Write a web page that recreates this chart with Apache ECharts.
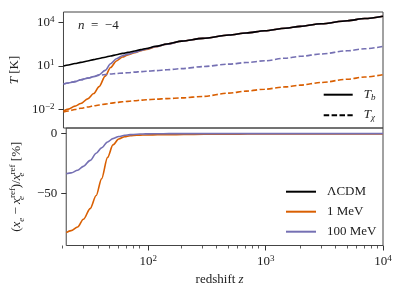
<!DOCTYPE html>
<html><head><meta charset="utf-8">
<script src="https://cdn.jsdelivr.net/npm/echarts@6/dist/echarts.min.js"></script>
<style>html,body{margin:0;padding:0;background:#fff}#c{width:399px;height:292px}</style>
</head><body><div id="c"></div>
<script>
const redshift = [20,22,25,28,32,36,40,45,50,56,63,70,80,90,100,120,150,200,300,500,700,1000,1500,2000,3000,5000,7000,10000];
const Tb_LCDM = [10.0,11.7,14.8,17.8,22.4,27.5,33.1,40.7,49.0,60.3,74.1,87.1,110,135,162,229,331,525,813,1380,1905,2750,4070,5500,8300,13500,19100,27500];
const Tb_1MeV = [0.0078,0.0105,0.017,0.0257,0.0537,0.126,0.38,2.0,7.9,22.4,41.7,58.9,83.2,112,141,209,324,525,813,1380,1905,2750,4070,5500,8300,13500,19100,27500];
const Tchi_1MeV = [0.0066,0.0079,0.010,0.012,0.0148,0.0178,0.0204,0.0234,0.0269,0.0302,0.0339,0.0363,0.0398,0.0437,0.0468,0.0513,0.0562,0.0631,0.0794,0.135,0.186,0.251,0.363,0.479,0.724,1.23,1.74,2.51];
const Tb_100MeV = [0.575,0.676,0.832,1.12,1.45,1.86,2.51,5.0,14.5,31.6,51.3,66.1,89.1,117,148,219,324,525,813,1380,1905,2750,4070,5500,8300,13500,19100,27500];
const Tchi_100MeV = [0.575,0.676,0.832,1.12,1.45,1.86,2.29,2.57,2.82,3.02,3.24,3.47,3.80,4.07,4.37,4.79,5.50,6.61,9.12,13.5,17.4,22.9,34.7,46.8,67.6,112,155,224];
const dxe_1MeV = [-83.2,-81.5,-78.5,-72,-63,-52,-38,-20,-9.5,-4.5,-2.6,-1.8,-1.4,-1.2,-1.1,-1.0,-0.9,-0.8,-0.6,-0.5,-0.4,-0.35,-0.3,-0.3,-0.25,-0.2,-0.2,-0.2];
const dxe_100MeV = [-33.8,-33,-30.8,-27.5,-22.5,-16.5,-12,-7,-4.2,-2.5,-1.4,-0.9,-0.5,-0.3,-0.2,-0.1,-0.05,0,0,0,0,0,0,0,0,0,0,0];

const xMajorTicks = [100,1000,10000];
const xMinorTicks = [20,30,40,50,60,70,80,90,200,300,400,500,600,700,800,900,2000,3000,4000,5000,6000,7000,8000,9000];
const yTopTicks = [0.01,10,10000];
const yBotTicks = [-50,0];
const bottomLegend = ['ΛCDM','1 MeV','100 MeV'];
const topLegend = ['Tb','Tx'];

const FONT = 'Liberation Serif';
const ORANGE = '#d95f02', PURPLE = '#7570b3', BLACK = '#000000';
const DASH = [5.5, 2.4];

function pairs(ys){ return redshift.map((z,i)=>[z, ys[i]]); }
function sci(v){
  const e = Math.round(Math.log10(v));
  return '{m|10}{s|' + (e < 0 ? '\u2212' + (-e) : e) + '}';
}
const supRich = {
  m: {fontFamily: FONT, fontSize: 13, lineHeight: 15, color: '#222'},
  s: {fontFamily: FONT, fontSize: 9, lineHeight: 9, verticalAlign: 'top', color: '#222'}
};

function line(name, ys, color, dashed, xi, yi){
  return {
    type: 'line', name: name, data: pairs(ys), xAxisIndex: xi, yAxisIndex: yi,
    showSymbol: false, symbol: 'none', smooth: 0.3, smoothMonotone: 'x',
    lineStyle: {color: color, width: 1.6, type: dashed ? DASH : 'solid'},
    itemStyle: {color: color}, animation: false, silent: true
  };
}
function legendOnly(name, color, dashed, xi, yi){
  return {type: 'line', name: name, data: [], xAxisIndex: xi, yAxisIndex: yi, symbol: 'none',
    lineStyle: {color: color, width: 1.6, type: dashed ? DASH : 'solid'}, itemStyle: {color: color}};
}

const chart = echarts.init(document.getElementById('c'), null, {renderer: 'canvas'});
const axisLineStyle = {color: '#333', width: 1};
const noLine = {show: false, onZero: false};
const bottomRect = {left: 62, top: 128, width: 321, height: 117.5};

chart.setOption({
  animation: false,
  backgroundColor: '#fff',
  textStyle: {fontFamily: FONT},
  title: {
    text: '{i|n}\u2002=\u2002\u22124',
    left: 78, top: 19, padding: 0,
    textStyle: {fontFamily: FONT, fontSize: 13, fontWeight: 'normal', color: '#222',
      rich: {i: {fontFamily: FONT, fontStyle: 'italic', fontSize: 13, color: '#222'}}}
  },
  grid: [
    {left: 62, top: 12, width: 321, height: 116, show: true, borderColor: '#444', borderWidth: 1, backgroundColor: 'transparent'},
    Object.assign({show: true, borderColor: '#444', borderWidth: 1, backgroundColor: 'transparent'}, bottomRect),
    Object.assign({show: false}, bottomRect)
  ],
  xAxis: [
    {type: 'log', gridIndex: 0, min: 20, max: 10000, axisLine: noLine, axisTick: {show: false},
     axisLabel: {show: false}, splitLine: {show: false}},
    {type: 'log', gridIndex: 1, position: 'bottom', min: 20, max: 10000, axisLine: noLine,
     axisTick: {show: true, length: 5, lineStyle: axisLineStyle, customValues: xMajorTicks},
     axisLabel: {show: true, margin: 9, customValues: xMajorTicks, formatter: sci, rich: supRich},
     splitLine: {show: false},
     name: 'redshift {i|z}', nameLocation: 'middle', nameGap: 28,
     nameTextStyle: {fontFamily: FONT, fontSize: 13, color: '#222', padding: [0, 10, 0, 0],
       rich: {i: {fontFamily: FONT, fontStyle: 'italic', fontSize: 13, color: '#222'}}}},
    {type: 'log', gridIndex: 2, position: 'bottom', min: 20, max: 10000, axisLine: noLine,
     axisTick: {show: true, length: 3, lineStyle: {color: '#333', width: 0.8}, customValues: xMinorTicks},
     axisLabel: {show: false}, splitLine: {show: false}}
  ],
  yAxis: [
    {type: 'log', gridIndex: 0, min: 0.000525, max: 53700, axisLine: noLine,
     axisTick: {show: true, length: 5, lineStyle: axisLineStyle, customValues: yTopTicks},
     axisLabel: {show: true, margin: 9, customValues: yTopTicks, formatter: sci, rich: supRich},
     splitLine: {show: false},
     name: '{i|T} [K]', nameLocation: 'middle', nameGap: 36, nameRotate: 90,
     nameTextStyle: {fontFamily: FONT, fontSize: 13, color: '#222',
       rich: {i: {fontFamily: FONT, fontStyle: 'italic', fontSize: 13, color: '#222'}}}},
    {type: 'value', gridIndex: 1, min: -94, max: 4.7, axisLine: noLine,
     axisTick: {show: true, length: 5, lineStyle: axisLineStyle, customValues: yBotTicks},
     axisLabel: {show: true, margin: 9, customValues: yBotTicks, color: '#222', fontFamily: FONT, fontSize: 13,
       formatter: v => (v < 0 ? '\u2212' + (-v) : String(v))},
     splitLine: {show: false},
     name: '({i|x}{sb|e} \u2212 {i|x}{sz|e}{sp|ref})/{i|x}{sz|e}{sp|ref} [%]',
     nameLocation: 'middle', nameGap: 34, nameRotate: 90,
     nameTextStyle: {fontFamily: FONT, fontSize: 13, color: '#222', lineHeight: 18,
       rich: {
         i: {fontFamily: FONT, fontStyle: 'italic', fontSize: 13, color: '#222', lineHeight: 18},
         sb: {fontFamily: FONT, fontStyle: 'italic', fontSize: 9, lineHeight: 9, verticalAlign: 'bottom', color: '#222'},
         sz: {fontFamily: FONT, fontStyle: 'italic', fontSize: 9, lineHeight: 9, verticalAlign: 'bottom', color: '#222', width: 0},
         sp: {fontFamily: FONT, fontSize: 9, lineHeight: 9, verticalAlign: 'top', color: '#222'}
       }}},
    {type: 'value', gridIndex: 2, min: -94, max: 4.7, show: false, axisLine: noLine}
  ],
  legend: [
    {data: topLegend, orient: 'vertical', left: 322.7, top: 87.7, padding: 0, itemWidth: 29, itemHeight: 14, itemGap: 6.6,
     selectedMode: false, itemStyle: {opacity: 0},
     formatter: n => n === 'Tb' ? '{i|T}{sb|b}' : '{i|T}{sb|\u03c7}',
     textStyle: {fontFamily: FONT, fontSize: 13, color: '#222', lineHeight: 16, padding: [0, 0, 0, 6],
       rich: {i: {fontFamily: FONT, fontStyle: 'italic', fontSize: 13, lineHeight: 14, verticalAlign: 'top', color: '#222'},
              sb: {fontFamily: FONT, fontStyle: 'italic', fontSize: 9, lineHeight: 9, verticalAlign: 'bottom', color: '#222'}}}},
    {data: bottomLegend, orient: 'vertical', left: 285, top: 184.7, padding: 0, itemWidth: 30, itemHeight: 14, itemGap: 6,
     selectedMode: false, itemStyle: {opacity: 0},
     textStyle: {fontFamily: FONT, fontSize: 13, color: '#222', lineHeight: 14, padding: [0, 0, 0, 6]}}
  ],
  series: [
    line('1 MeV Tb', Tb_1MeV, ORANGE, false, 0, 0),
    line('1 MeV Tx', Tchi_1MeV, ORANGE, true, 0, 0),
    line('100 MeV Tb', Tb_100MeV, PURPLE, false, 0, 0),
    line('100 MeV Tx', Tchi_100MeV, PURPLE, true, 0, 0),
    line('ΛCDM Tb', Tb_LCDM, BLACK, false, 0, 0),
    legendOnly('Tb', BLACK, false, 0, 0),
    legendOnly('Tx', BLACK, true, 0, 0),
    legendOnly('ΛCDM', BLACK, false, 1, 1),
    line('1 MeV', dxe_1MeV, ORANGE, false, 1, 1),
    line('100 MeV', dxe_100MeV, PURPLE, false, 1, 1)
  ]
});
</script>
</body></html>
